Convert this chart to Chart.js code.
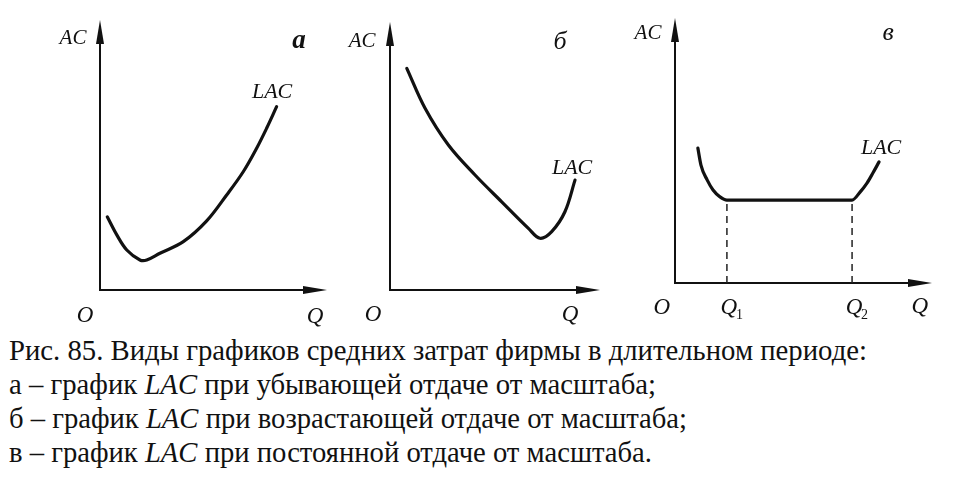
<!DOCTYPE html>
<html>
<head>
<meta charset="utf-8">
<script src="https://cdn.jsdelivr.net/npm/chart.js@4.4.1/dist/chart.umd.min.js"></script>
<style>
  html, body { margin: 0; padding: 0; background: #fff; }
  body { width: 966px; height: 490px; position: relative; overflow: hidden; }
  #wrap { position: absolute; left: 0; top: 0; width: 966px; height: 330px; }
  .cap { position: absolute; left: 9px; white-space: nowrap; font-family: "Liberation Serif", serif;
         font-size: 30px; line-height: 34px; color: #111; transform-origin: 0 50%; display: inline-block; }
</style>
</head>
<body>
<div id="wrap"><canvas id="c" width="966" height="330"></canvas></div>
<div class="cap" id="l1" data-w="858">Рис. 85. Виды графиков средних затрат фирмы в длительном периоде:</div>
<div class="cap" id="l2" data-w="647">а – график <i>LAC</i> при убывающей отдаче от масштаба;</div>
<div class="cap" id="l3" data-w="678">б – график <i>LAC</i> при возрастающей отдаче от масштаба;</div>
<div class="cap" id="l4" data-w="643">в – график <i>LAC</i> при постоянной отдаче от масштаба.</div>
<script>
// ---------- data (abstract units, axis arrow tips at 10) ----------
const aQ   = [0.32, 0.74, 1.18, 1.76, 2.06, 2.64, 3.67, 4.70, 5.58, 6.31, 6.90, 7.34, 7.78];
const aLAC = [2.71, 2.04, 1.48, 1.11, 1.11, 1.36, 1.79, 2.56, 3.52, 4.38, 5.25, 5.99, 6.79];

const bQ   = [0.80, 1.67, 2.78, 4.05, 5.32, 6.59, 7.14, 7.70, 8.33, 8.81];
const bLAC = [8.27, 6.78, 5.41, 4.29, 3.29, 2.30, 1.93, 2.18, 2.92, 4.10];

const cQ   = [0.89, 1.01, 1.25, 1.48, 1.75, 2.02, 6.89, 7.20, 7.47, 7.70, 7.94];
const cLAC = [5.09, 4.45, 3.89, 3.51, 3.25, 3.13, 3.13, 3.43, 3.77, 4.15, 4.57];

const cQmarks = [2.02, 6.89];         // Q1, Q2
const cQmarkLabels = ['1', '2'];
const cFlatLevel = 3.13;

const panelLetters = ['а', 'б', 'в'];
const axisY = 'AC', axisX = 'Q', originLabel = 'O', curveLabel = 'LAC';

const SERIF = '"Liberation Serif", serif';
const F = (spec) => spec + ' ' + SERIF;

// ---------- layout (pixels) ----------
const W = 966, H = 330;
const panels = [
  { ox: 100, oy: 290, tipX: 327, tipY: 20, letter: [8.77, 9.22], ac: [-1.19, 9.33], lac: [7.58, 7.33], o: [-0.66, -0.96], q: [9.47, -1.0], letterFont: 'italic bold 27px' },
  { ox: 390, oy: 290, tipX: 600, tipY: 22, letter: [8.10, 9.25], ac: [-1.33, 9.29], lac: [8.67, 4.55], o: [-0.81, -0.93], q: [8.57, -0.93], letterFont: 'italic 26px' },
  { ox: 675, oy: 283, tipX: 932, tipY: 18, letter: [8.29, 9.43], ac: [-1.05, 9.43], lac: [8.02, 5.09], o: [-0.51, -0.94], q: [9.53, -0.91], letterFont: 'italic 26px' }
];
panels.forEach(p => { p.ux = (p.tipX - p.ox) / 10; p.uy = (p.oy - p.tipY) / 10; });

const scales = {};
panels.forEach((p, i) => {
  scales['x' + i] = { type: 'linear', display: false, min: -p.ox / p.ux, max: (W - p.ox) / p.ux };
  scales['y' + i] = { type: 'linear', display: false, min: (p.oy - H) / p.uy, max: p.oy / p.uy };
});

const toXY = (xs, ys) => xs.map((x, i) => ({ x, y: ys[i] }));
const curveStyle = { borderColor: '#111', borderWidth: 3.2, pointRadius: 0, fill: false, borderCapStyle: 'round', borderJoinStyle: 'round', clip: false };

const datasets = [
  Object.assign({ data: toXY(aQ, aLAC), xAxisID: 'x0', yAxisID: 'y0', tension: 0.35 }, curveStyle),
  Object.assign({ data: toXY(bQ, bLAC), xAxisID: 'x1', yAxisID: 'y1', tension: 0.35 }, curveStyle),
  Object.assign({ data: toXY(cQ, cLAC), xAxisID: 'x2', yAxisID: 'y2', cubicInterpolationMode: 'monotone' }, curveStyle)
];
cQmarks.forEach(q => {
  datasets.push({ data: [{ x: q, y: 0 }, { x: q, y: cFlatLevel }], xAxisID: 'x2', yAxisID: 'y2',
    borderColor: '#222', borderWidth: 1.5, borderDash: [7, 5], pointRadius: 0, fill: false, tension: 0, clip: false });
});

const axesPlugin = {
  id: 'axesPlugin',
  beforeDatasetsDraw(chart) {
    const ctx = chart.ctx;
    panels.forEach((p, i) => {
      const xs = chart.scales['x' + i], ys = chart.scales['y' + i];
      const x0 = xs.getPixelForValue(0), y0 = ys.getPixelForValue(0);
      const xt = xs.getPixelForValue(10), yt = ys.getPixelForValue(10);
      ctx.save();
      ctx.strokeStyle = '#111'; ctx.fillStyle = '#111'; ctx.lineWidth = 2;
      ctx.beginPath(); ctx.moveTo(x0, y0); ctx.lineTo(x0, yt + 12); ctx.stroke();
      ctx.beginPath(); ctx.moveTo(x0 - 1, y0); ctx.lineTo(xt - 12, y0); ctx.stroke();
      ctx.beginPath(); ctx.moveTo(x0, yt); ctx.lineTo(x0 - 4, yt + 24); ctx.lineTo(x0 + 4, yt + 24); ctx.closePath(); ctx.fill();
      ctx.beginPath(); ctx.moveTo(xt, y0); ctx.lineTo(xt - 24, y0 - 4); ctx.lineTo(xt - 24, y0 + 4); ctx.closePath(); ctx.fill();
      ctx.restore();
    });
  },
  afterDatasetsDraw(chart) {
    const ctx = chart.ctx;
    panels.forEach((p, i) => {
      const xs = chart.scales['x' + i], ys = chart.scales['y' + i];
      const P = (pt) => [xs.getPixelForValue(pt[0]), ys.getPixelForValue(pt[1])];
      ctx.save();
      ctx.fillStyle = '#111'; ctx.textAlign = 'center'; ctx.textBaseline = 'middle';
      let q;
      ctx.font = F('italic 21px'); q = P(p.ac); ctx.fillText(axisY, q[0], q[1]);
      ctx.font = F(p.letterFont); q = P(p.letter); ctx.fillText(panelLetters[i], q[0], q[1]);
      ctx.font = F('italic 22px'); q = P(p.lac); ctx.fillText(curveLabel, q[0], q[1]);
      ctx.font = F('italic 23px'); q = P(p.o); ctx.fillText(originLabel, q[0], q[1]);
      q = P(p.q); ctx.fillText(axisX, q[0], q[1]);
      if (i === 2) {
        cQmarks.forEach((m, k) => {
          const px = xs.getPixelForValue(m), py = ys.getPixelForValue(-0.94);
          ctx.font = F('italic 23px'); ctx.textAlign = 'center';
          ctx.fillText(axisX, px + 2, py);
          ctx.font = F('14px'); ctx.textAlign = 'left';
          ctx.fillText(cQmarkLabels[k], px + 9, py + 7);
        });
      }
      ctx.restore();
    });
  }
};

new Chart(document.getElementById('c'), {
  type: 'line',
  data: { datasets },
  options: {
    responsive: false, animation: false, maintainAspectRatio: false,
    layout: { padding: 0 },
    plugins: { legend: { display: false }, tooltip: { enabled: false } },
    events: [],
    scales
  },
  plugins: [axesPlugin]
});

const baselines = [360, 394, 428, 462];
['l1', 'l2', 'l3', 'l4'].forEach((id, k) => {
  const el = document.getElementById(id);
  el.style.top = (baselines[k] - 27) + 'px';
  const w = el.getBoundingClientRect().width;
  el.style.transform = 'scaleX(' + (+el.dataset.w / w).toFixed(4) + ')';
});
</script>
</body>
</html>
